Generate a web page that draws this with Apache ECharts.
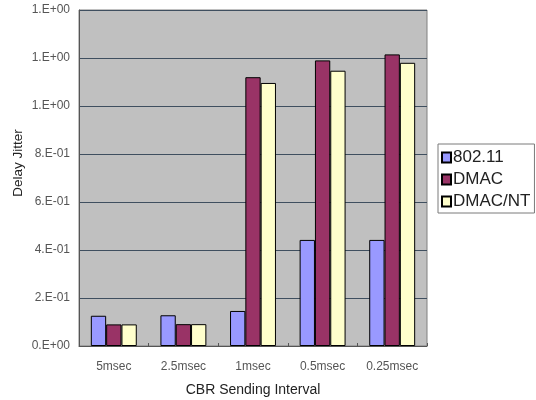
<!DOCTYPE html>
<html>
<head>
<meta charset="utf-8">
<script src="https://cdn.jsdelivr.net/npm/echarts@6/dist/echarts.min.js"></script>
<style>
  html, body { margin: 0; padding: 0; background: #fff; }
  #chart { width: 536px; height: 400px; }
</style>
</head>
<body>
<div id="chart"></div>
<script>
// Sending intervals on the x axis
const categories = ['5msec', '2.5msec', '1msec', '0.5msec', '0.25msec'];

// Delay jitter per protocol
const jitter80211 = [0.126, 0.128, 0.146, 0.442, 0.442];
const jitterDMAC = [0.090, 0.091, 1.120, 1.190, 1.215];
const jitterDMACNT = [0.090, 0.091, 1.096, 1.147, 1.180];

const seriesNames = ['802.11', 'DMAC', 'DMAC/NT'];
const seriesColors = ['#9999ff', '#993366', '#ffffcc'];

// Excel-style "0.E+00" scientific number format
function sci(v) {
  if (Math.abs(v) < 1e-12) return '0.E+00';
  let e = Math.floor(Math.log10(Math.abs(v)) + 1e-9);
  let m = Math.round(v / Math.pow(10, e));
  if (m >= 10) { m = 1; e += 1; }
  const sign = e < 0 ? '-' : '+';
  const ae = Math.abs(e);
  return m + '.E' + sign + (ae < 10 ? '0' + ae : ae);
}

const font = 'Liberation Sans, Arial, sans-serif';
const chart = echarts.init(document.getElementById('chart'));

const dataSets = [jitter80211, jitterDMAC, jitterDMACNT];

chart.setOption({
  animation: false,
  backgroundColor: '#ffffff',
  grid: {
    left: 79, right: 109, top: 10, bottom: 54,
    outerBoundsMode: 'none',
    containLabel: false,
    show: true,
    backgroundColor: '#c0c0c0',
    borderColor: '#808080',
    borderWidth: 1
  },
  legend: {
    orient: 'vertical',
    left: 438, top: 144,
    padding: [5, 4, 3, 3],
    itemGap: 5,
    itemWidth: 9, itemHeight: 10,
    icon: 'rect',
    backgroundColor: '#ffffff',
    borderColor: '#7a7a7a',
    borderWidth: 1,
    textStyle: { fontFamily: font, fontSize: 17, color: '#222', padding: [0, 0, 0, -3] },
    data: seriesNames
  },
  xAxis: {
    type: 'category',
    data: categories,
    name: 'CBR Sending Interval',
    nameLocation: 'middle',
    nameGap: 37,
    nameMoveOverlap: false,
    nameTextStyle: { fontFamily: font, fontSize: 14, color: '#222' },
    axisLine: { lineStyle: { color: '#555', width: 1 } },
    axisTick: { show: true, inside: true, length: 3, lineStyle: { color: '#555' } },
    axisLabel: { fontFamily: font, fontSize: 12, color: '#555', margin: 15 }
  },
  yAxis: {
    type: 'value',
    min: 0, max: 1.4, interval: 0.2,
    name: 'Delay Jitter',
    nameLocation: 'middle',
    nameGap: 54,
    nameMoveOverlap: false,
    nameTextStyle: { fontFamily: font, fontSize: 13.5, color: '#222', padding: [0, 0, 0, 30] },
    axisLine: { show: true, lineStyle: { color: '#555', width: 1 } },
    axisTick: { show: false },
    splitLine: { lineStyle: { color: '#3f4f5f', width: 1 } },
    axisLabel: { fontFamily: font, fontSize: 12, color: '#555', margin: 9, formatter: sci }
  },
  series: seriesNames.map((name, i) => ({
    name: name,
    type: 'bar',
    data: dataSets[i],
    barGap: '0%',
    barCategoryGap: '34%',
    itemStyle: { color: seriesColors[i], borderColor: '#000', borderWidth: 1 }
  }))
});
</script>
</body>
</html>
